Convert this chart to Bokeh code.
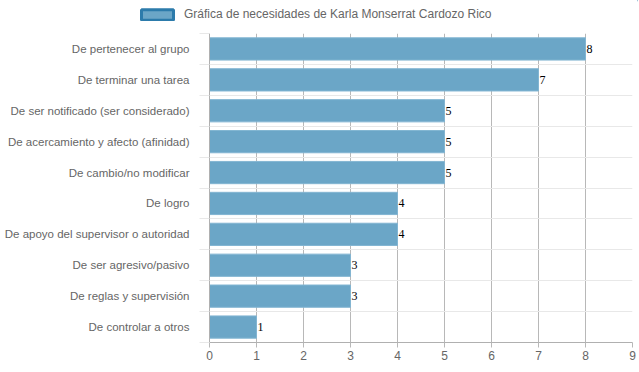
from bokeh.plotting import figure
from bokeh.layouts import column
from bokeh.models import FixedTicker, Range1d, Legend, LegendItem
from bokeh.core.properties import value
from bokeh.embed import file_html
from bokeh.resources import INLINE

categories = [
    "De pertenecer al grupo",
    "De terminar una tarea",
    "De ser notificado (ser considerado)",
    "De acercamiento y afecto (afinidad)",
    "De cambio/no modificar",
    "De logro",
    "De apoyo del supervisor o autoridad",
    "De ser agresivo/pasivo",
    "De reglas y supervisión",
    "De controlar a otros",
]
values = [8, 7, 5, 5, 5, 4, 4, 3, 3, 1]
x_ticks = [0, 1, 2, 3, 4, 5, 6, 7, 8, 9]
series_name = "Gráfica de necesidades de Karla Monserrat Cardozo Rico"

BAR = "#6ba6c7"
BAR_EDGE = "#2c7bab"
LABEL_FONT = "Liberation Sans"

n = len(categories)
ypos = list(range(n))
bounds = [i - 0.5 for i in range(n + 1)]

TOP_H = 25

# ---- legend strip ----
top = figure(width=638, height=TOP_H, output_backend="svg", toolbar_location=None,
             x_range=Range1d(0, 1), y_range=Range1d(0, 1),
             x_axis_location=None, y_axis_location=None,
             min_border_left=0, min_border_right=0, min_border_top=0,
             min_border_bottom=0)
top.frame_align = False
top.margin = (0, 0, 0, 0)
top.outline_line_color = None
top.xgrid.visible = False
top.ygrid.visible = False
# legend proxy: its single bar sits outside the strip's range, so only the legend swatch shows
dummy = top.hbar(y=[5], right=[5], left=[4], height=0.5, fill_color=BAR,
                 line_color=BAR_EDGE, line_width=3)
legend = Legend(items=[LegendItem(label=series_name, renderers=[dummy])],
                location=(137, 4), orientation="horizontal",
                glyph_width=40, glyph_height=13, label_standoff=7,
                padding=0, margin=0, spacing=0, label_height=13,
                border_line_color=None, background_fill_alpha=0,
                label_text_font=LABEL_FONT, label_text_font_size="12px",
                label_text_color="#666666")
top.add_layout(legend)

# ---- main chart ----
p = figure(width=638, height=364 - TOP_H, output_backend="svg", toolbar_location=None,
           x_range=Range1d(0, 9), y_range=Range1d(n - 0.5, -0.5),
           min_border_left=209, min_border_right=6, min_border_top=33 - TOP_H,
           min_border_bottom=22)
p.frame_align = False
p.margin = (0, 0, 0, 0)
p.outline_line_color = None
p.background_fill_color = "white"
p.border_fill_color = "white"

p.hbar(y=ypos, right=values, left=0, height=0.72, fill_color=BAR,
       line_color="#82b5d2", line_width=1)

p.text(x=values, y=ypos, text=[str(v) for v in values], x_offset=1,
       text_baseline="alphabetic", text_align="left",
       text_font=value("Liberation Serif"), text_font_size="12px",
       text_color="black")

# grids
p.xgrid.ticker = FixedTicker(ticks=x_ticks)
p.xgrid.grid_line_color = "#b8b8b8"
p.ygrid.ticker = FixedTicker(ticks=bounds)
p.ygrid.grid_line_color = "#e8e8e8"

# y axis
ya = p.yaxis[0]
ya.ticker = FixedTicker(ticks=ypos, minor_ticks=bounds)
ya.major_label_overrides = {i: c for i, c in zip(ypos, categories)}
ya.major_tick_line_color = None
ya.major_tick_out = 0
ya.major_tick_in = 0
ya.minor_tick_out = 10
ya.minor_tick_in = 0
ya.minor_tick_line_color = "#e8e8e8"
ya.axis_line_color = "#b0b0b0"
ya.major_label_standoff = 10
ya.major_label_text_font = LABEL_FONT
ya.major_label_text_font_size = "11.5px"
ya.major_label_text_color = "#666666"

# x axis
xa = p.xaxis[0]
xa.ticker = FixedTicker(ticks=x_ticks)
xa.major_tick_out = 5
xa.major_tick_in = 0
xa.major_tick_line_color = "#b8b8b8"
xa.minor_tick_line_color = None
xa.axis_line_color = "#b0b0b0"
xa.major_label_standoff = 3
xa.major_label_text_font = LABEL_FONT
xa.major_label_text_font_size = "12px"
xa.major_label_text_color = "#666666"

layout = column(top, p, spacing=0)
layout.margin = (0, 0, 0, 0)

open("out.html", "w").write(file_html(layout, INLINE))
